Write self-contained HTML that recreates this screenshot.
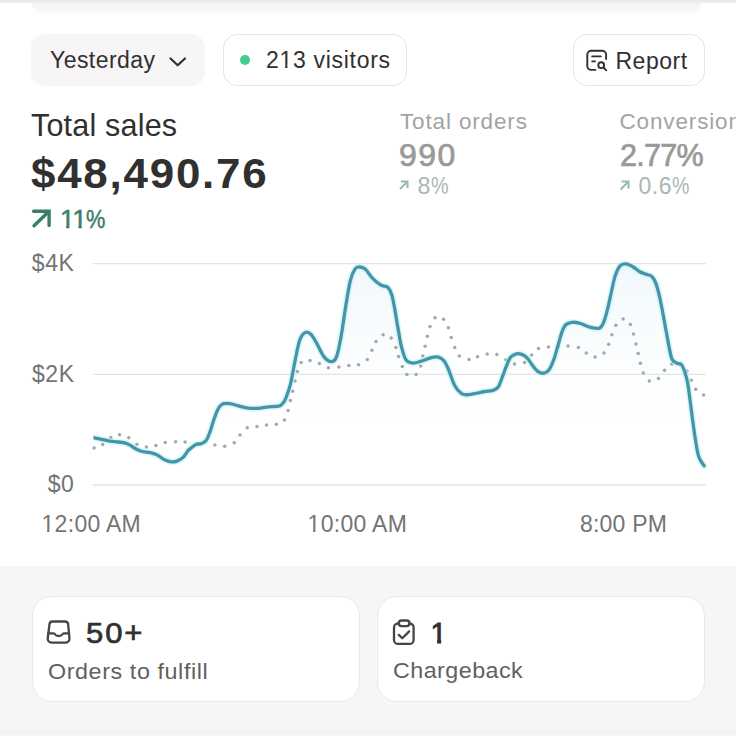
<!DOCTYPE html>
<html><head><meta charset="utf-8">
<style>
*{margin:0;padding:0;box-sizing:border-box}
html,body{width:736px;height:736px;overflow:hidden;background:#fff}
body{position:relative;font-family:"Liberation Sans",sans-serif;color:#303030}
.a{position:absolute;white-space:nowrap;line-height:1}
.one{--s:0.1px;--v:1px;display:inline-block;clip-path:polygon(-2px -2px,calc(100% + 3px) -2px,calc(100% + 3px) calc(0.758em - var(--v)),calc(0.34em + var(--s)) calc(0.758em - var(--v)),calc(0.34em + var(--s)) 110%,calc(0.25em - var(--s)) 110%,calc(0.25em - var(--s)) calc(0.758em - var(--v)),-2px calc(0.758em - var(--v)))}
.oneb{display:inline-block;clip-path:polygon(0 0,100% 0,100% 0.745em,0.3675em 0.745em,0.3675em 100%,0.2325em 100%,0.2325em 0.745em,0 0.745em)}
.topband{position:absolute;left:0;top:0;width:736px;height:3px;background:linear-gradient(#e8e8e8,#eeeeee)}
.topcard{position:absolute;left:32px;top:-40px;width:669px;height:54px;border-radius:12px;background:linear-gradient(#f2f2f2 0,#f3f3f3 43px,#fbfbfb 54px)}
.btn{position:absolute;top:34px;height:52px;border-radius:14px}
.b1{left:30.5px;width:174.5px;background:#f8f5f7}
.b2{left:223px;width:183.5px;background:#fff;border:1.5px solid #e6e4e5}
.b3{left:572.5px;width:132px;background:#fff;border:1.5px solid #e6e4e5}
.dot{position:absolute;left:239.5px;top:55px;width:10px;height:10px;border-radius:50%;background:#45cc90}
.bottom{position:absolute;left:0;top:566px;width:736px;height:170px;background:#f8f5f8}
.card{position:absolute;top:596px;height:106px;border-radius:20px;background:#fff;border:1.5px solid #ebe8ea}
.c1{left:32px;width:327.5px}
.c2{left:377px;width:327.5px}
</style></head><body>
<div class="topcard"></div>
<div class="topband"></div>

<div class="btn b1"></div>
<div class="btn b2"></div>
<div class="btn b3"></div>
<div class="dot"></div>

<span class="a" id="t_yest" style="top:48.83px;font-size:23px;color:#303030;left:50px;letter-spacing:0.45px;">Yesterday</span>
<span class="a" id="t_vis" style="top:48.93px;font-size:23px;color:#303030;left:266px;letter-spacing:0.7px;">2<span class="one">1</span>3 visitors</span>
<span class="a" id="t_rep" style="top:49.63px;font-size:23px;color:#303030;left:615.5px;letter-spacing:0.5px;">Report</span>
<span class="a" id="t_ts" style="top:109.78px;font-size:30.5px;color:#303030;left:31px;letter-spacing:0.2px;">Total sales</span>
<span class="a" id="t_amt" style="top:153.25px;font-size:42px;color:#303030;left:31px;font-weight:700;letter-spacing:1.7px;transform:scaleX(1.045);transform-origin:0 0;">$48,490.76</span>
<span class="a" id="t_11" style="top:206.27px;font-size:26.5px;color:#3a8069;left:60px;-webkit-text-stroke:0.5px #3a8069;"><span class="one" style="--s:0.4px;--v:1.3px;letter-spacing:-2.5px">1</span><span class="one" style="--s:0.4px;--v:1.3px;letter-spacing:-0.6px">1</span><span style="display:inline-block;transform:scaleX(0.82);transform-origin:0 0">%</span></span>
<span class="a" id="t_to" style="top:110.95px;font-size:22.5px;color:#a3a3a3;left:400px;letter-spacing:0.85px;">Total orders</span>
<span class="a" id="t_990" style="top:140.18px;font-size:30.5px;color:#999999;left:399px;letter-spacing:1.4px;transform:scaleX(1.05);transform-origin:0 0;-webkit-text-stroke:0.7px #999999;">990</span>
<span class="a" id="t_8" style="top:174.58px;font-size:23.3px;color:#a8b8b1;left:417.5px;letter-spacing:0.6px;">8<span style="display:inline-block;transform:scaleX(0.85);transform-origin:0 0">%</span></span>
<span class="a" id="t_conv" style="top:110.95px;font-size:22.5px;color:#a3a3a3;left:619.5px;letter-spacing:0.85px;">Conversion</span>
<span class="a" id="t_277" style="top:140.18px;font-size:30.5px;color:#999999;left:620px;letter-spacing:-0.7px;-webkit-text-stroke:0.7px #999999;">2.77%</span>
<span class="a" id="t_06" style="top:174.53px;font-size:23px;color:#a8b8b1;left:638.5px;letter-spacing:0.5px;">0.6<span style="display:inline-block;transform:scaleX(0.85);transform-origin:0 0">%</span></span>
<span class="a" id="t_4k" style="top:252.33px;font-size:23px;color:#747474;right:661.5px;letter-spacing:0.6px;">$4K</span>
<span class="a" id="t_2k" style="top:363.13px;font-size:23px;color:#747474;right:661.5px;letter-spacing:0.5px;">$2K</span>
<span class="a" id="t_0" style="top:473.13px;font-size:23px;color:#747474;right:661.5px;letter-spacing:0.6px;">$0</span>
<span class="a" id="t_12" style="top:513.03px;font-size:23px;color:#747474;left:41.5px;letter-spacing:0.3px;"><span class="one">1</span>2:00 AM</span>
<span class="a" id="t_10" style="top:513.03px;font-size:23px;color:#747474;left:307.5px;letter-spacing:0.32px;"><span class="one">1</span>0:00 AM</span>
<span class="a" id="t_8pm" style="top:513.03px;font-size:23px;color:#747474;left:580px;letter-spacing:0.2px;">8:00 PM</span>
<svg style="position:absolute;left:0;top:0" width="736" height="565" viewBox="0 0 736 565">
<defs>
<linearGradient id="ag" x1="0" y1="263" x2="0" y2="485" gradientUnits="userSpaceOnUse">
<stop offset="0" stop-color="#e4f2f8" stop-opacity="0.55"/>
<stop offset="0.5" stop-color="#eef6fa" stop-opacity="0.15"/>
<stop offset="0.75" stop-color="#ffffff" stop-opacity="0"/>
</linearGradient>
<clipPath id="lc"><rect x="93.4" y="0" width="700" height="565"/></clipPath>
</defs>
<g stroke="#e2e2e2" stroke-width="1.3">
<line x1="93" y1="263.6" x2="705.5" y2="263.6"/>
<line x1="93" y1="374.4" x2="705.5" y2="374.4"/>
<line x1="93" y1="485" x2="705.5" y2="485"/>
</g>
<path d="M93.7,437.7 C95.0,438.0 98.9,438.7 101.6,439.3 C104.3,439.9 107.0,440.7 109.7,441.1 C112.4,441.6 115.4,441.7 117.9,442.0 C120.4,442.3 122.7,442.3 124.7,442.8 C126.7,443.3 128.3,444.1 130.1,445.1 C131.9,446.1 133.6,447.7 135.6,448.8 C137.6,449.9 139.8,450.9 142.3,451.5 C144.8,452.1 148.0,452.0 150.5,452.6 C153.0,453.2 155.0,454.0 157.3,455.1 C159.6,456.2 161.8,458.3 164.1,459.4 C166.4,460.5 168.9,461.5 170.9,461.8 C172.9,462.1 174.3,462.1 176.3,461.4 C178.3,460.7 181.2,459.2 183.1,457.4 C185.0,455.6 186.8,452.1 188.0,450.6 C189.2,449.1 189.1,449.6 190.4,448.6 C191.7,447.6 194.1,445.3 195.9,444.5 C197.7,443.7 199.6,444.3 201.3,443.6 C203.0,442.9 204.6,442.5 206.1,440.5 C207.6,438.5 208.9,434.9 210.1,431.6 C211.3,428.3 212.2,424.4 213.5,420.8 C214.8,417.2 216.2,412.6 217.6,409.9 C219.0,407.2 220.1,405.6 221.7,404.5 C223.3,403.4 225.1,403.4 227.1,403.4 C229.1,403.4 231.4,403.9 233.9,404.5 C236.4,405.1 239.4,406.3 242.1,406.9 C244.8,407.5 247.5,408.1 250.2,408.3 C252.9,408.5 255.7,408.5 258.4,408.3 C261.1,408.1 263.8,407.5 266.5,407.2 C269.2,406.9 272.4,406.7 274.7,406.5 C277.0,406.3 278.6,406.5 280.1,405.8 C281.6,405.1 282.6,403.7 283.5,402.4 C284.4,401.1 284.7,401.2 285.8,398.2 C286.9,395.2 288.9,390.5 290.4,384.3 C291.9,378.1 293.5,368.5 295.0,361.2 C296.5,353.9 297.9,345.3 299.6,340.5 C301.3,335.7 303.5,333.4 305.4,332.4 C307.3,331.4 309.3,332.8 311.2,334.7 C313.1,336.6 314.9,340.2 317.0,343.9 C319.1,347.5 321.5,353.6 323.9,356.6 C326.3,359.6 329.2,361.7 331.3,361.7 C333.4,361.7 335.0,360.9 336.6,356.6 C338.2,352.3 339.7,344.3 341.2,335.8 C342.7,327.3 344.3,315.0 345.8,305.8 C347.3,296.6 348.8,286.5 350.4,280.4 C351.9,274.2 353.6,271.1 355.1,268.9 C356.7,266.7 358.0,266.9 359.7,267.0 C361.4,267.1 363.4,267.4 365.5,269.3 C367.6,271.2 369.8,275.5 372.4,278.1 C374.9,280.7 378.2,283.5 380.8,285.0 C383.4,286.5 385.9,285.8 387.7,287.3 C389.5,288.9 390.5,290.8 391.6,294.3 C392.8,297.8 393.5,302.3 394.6,308.1 C395.7,313.9 396.9,322.3 398.1,328.9 C399.3,335.4 400.2,342.2 401.6,347.4 C403.0,352.6 404.3,357.5 406.2,360.1 C408.1,362.7 410.6,362.9 413.1,363.1 C415.6,363.3 418.3,362.1 421.2,361.2 C424.1,360.3 427.5,358.5 430.4,357.8 C433.3,357.1 436.2,356.5 438.5,357.1 C440.8,357.7 442.6,359.0 444.3,361.2 C446.0,363.4 447.2,366.4 448.9,370.5 C450.6,374.6 452.6,381.6 454.7,385.5 C456.8,389.4 459.3,392.1 461.6,393.6 C463.9,395.1 465.9,394.8 468.5,394.7 C471.1,394.6 474.8,393.5 477.5,393.0 C480.2,392.5 482.3,391.9 484.9,391.5 C487.5,391.1 490.9,391.2 493.2,390.4 C495.4,389.6 496.9,388.8 498.4,386.7 C499.9,384.6 500.9,380.9 502.1,377.7 C503.4,374.5 504.5,370.7 505.9,367.3 C507.3,363.9 508.7,359.8 510.4,357.5 C512.1,355.2 514.3,354.3 516.3,353.8 C518.3,353.3 520.4,353.9 522.3,354.6 C524.2,355.4 525.8,356.4 527.5,358.3 C529.2,360.2 531.0,363.6 532.8,365.8 C534.5,368.0 536.1,370.3 538.0,371.5 C539.9,372.7 542.1,373.5 544.0,373.2 C545.9,372.9 547.6,371.7 549.2,369.5 C550.8,367.3 552.2,363.9 553.7,359.8 C555.2,355.7 556.8,349.4 558.2,344.8 C559.6,340.2 560.6,335.5 561.9,332.1 C563.1,328.8 564.0,326.3 565.7,324.7 C567.4,323.1 569.4,322.5 571.9,322.3 C574.4,322.1 577.6,322.6 580.7,323.5 C583.8,324.4 587.5,326.6 590.6,327.4 C593.7,328.2 597.3,328.9 599.4,328.2 C601.5,327.4 602.1,325.9 603.4,322.9 C604.7,319.9 606.0,315.2 607.3,310.1 C608.6,305.0 610.0,298.1 611.3,292.4 C612.6,286.7 613.7,280.1 615.2,275.7 C616.7,271.3 618.3,267.8 620.1,265.8 C621.9,263.8 623.9,263.7 626.0,263.9 C628.1,264.1 630.6,265.5 632.9,266.8 C635.2,268.1 637.7,270.5 639.8,271.7 C641.9,272.9 643.7,273.3 645.7,274.1 C647.7,274.9 650.0,274.9 651.6,276.3 C653.2,277.7 654.3,279.3 655.6,282.6 C656.9,285.9 658.2,290.7 659.5,296.3 C660.8,301.9 662.0,308.4 663.4,316.0 C664.8,323.6 666.7,334.5 668.1,341.6 C669.5,348.7 670.4,355.1 671.8,358.7 C673.2,362.3 675.2,362.2 676.7,363.1 C678.2,364.0 679.9,363.0 681.1,364.1 C682.3,365.2 682.9,366.5 684.0,369.7 C685.1,372.9 686.5,376.4 687.7,383.1 C688.9,389.8 690.1,401.0 691.3,410.0 C692.5,419.0 693.8,429.1 695.0,436.9 C696.2,444.6 697.2,451.7 698.7,456.5 C700.2,461.3 703.2,464.2 704.1,465.8 L704.1,485 L93.7,485 Z" fill="url(#ag)"/>
<g fill="#a2a9ac"><circle cx="94.1" cy="447.9" r="1.75"/><circle cx="102.7" cy="444.5" r="1.75"/><circle cx="110.8" cy="437.4" r="1.75"/><circle cx="119.5" cy="434.7" r="1.75"/><circle cx="128.8" cy="437.7" r="1.75"/><circle cx="136.9" cy="444.2" r="1.75"/><circle cx="146.4" cy="446.9" r="1.75"/><circle cx="155.9" cy="445.5" r="1.75"/><circle cx="165.2" cy="442.4" r="1.75"/><circle cx="175.6" cy="441.7" r="1.75"/><circle cx="185.1" cy="442.0" r="1.75"/><circle cx="214.9" cy="445.0" r="1.75"/><circle cx="224.7" cy="446.3" r="1.75"/><circle cx="234.2" cy="442.8" r="1.75"/><circle cx="240.0" cy="435.0" r="1.75"/><circle cx="247.2" cy="427.8" r="1.75"/><circle cx="257.0" cy="426.5" r="1.75"/><circle cx="266.5" cy="425.1" r="1.75"/><circle cx="276.3" cy="424.2" r="1.75"/><circle cx="284.4" cy="419.9" r="1.75"/><circle cx="288.1" cy="410.4" r="1.75"/><circle cx="290.4" cy="400.5" r="1.75"/><circle cx="292.7" cy="391.3" r="1.75"/><circle cx="295.0" cy="380.9" r="1.75"/><circle cx="297.3" cy="371.6" r="1.75"/><circle cx="301.2" cy="362.4" r="1.75"/><circle cx="310.0" cy="360.5" r="1.75"/><circle cx="319.3" cy="363.5" r="1.75"/><circle cx="328.5" cy="367.7" r="1.75"/><circle cx="338.9" cy="367.0" r="1.75"/><circle cx="348.8" cy="365.4" r="1.75"/><circle cx="358.5" cy="364.7" r="1.75"/><circle cx="367.3" cy="359.4" r="1.75"/><circle cx="371.9" cy="350.2" r="1.75"/><circle cx="376.0" cy="341.4" r="1.75"/><circle cx="383.1" cy="334.7" r="1.75"/><circle cx="391.2" cy="338.1" r="1.75"/><circle cx="395.8" cy="347.4" r="1.75"/><circle cx="398.6" cy="356.6" r="1.75"/><circle cx="402.3" cy="366.5" r="1.75"/><circle cx="406.9" cy="374.6" r="1.75"/><circle cx="416.1" cy="374.4" r="1.75"/><circle cx="420.7" cy="365.9" r="1.75"/><circle cx="422.8" cy="355.9" r="1.75"/><circle cx="425.1" cy="346.2" r="1.75"/><circle cx="427.4" cy="336.3" r="1.75"/><circle cx="430.0" cy="326.6" r="1.75"/><circle cx="435.0" cy="317.8" r="1.75"/><circle cx="443.6" cy="319.2" r="1.75"/><circle cx="448.4" cy="327.7" r="1.75"/><circle cx="451.2" cy="337.5" r="1.75"/><circle cx="454.7" cy="347.4" r="1.75"/><circle cx="459.3" cy="355.9" r="1.75"/><circle cx="469.0" cy="359.6" r="1.75"/><circle cx="477.5" cy="356.8" r="1.75"/><circle cx="487.2" cy="354.1" r="1.75"/><circle cx="496.9" cy="354.6" r="1.75"/><circle cx="505.9" cy="359.8" r="1.75"/><circle cx="514.5" cy="364.0" r="1.75"/><circle cx="524.6" cy="362.5" r="1.75"/><circle cx="531.6" cy="355.0" r="1.75"/><circle cx="538.5" cy="348.6" r="1.75"/><circle cx="548.5" cy="347.1" r="1.75"/><circle cx="558.2" cy="346.7" r="1.75"/><circle cx="568.0" cy="346.1" r="1.75"/><circle cx="578.4" cy="347.5" r="1.75"/><circle cx="586.3" cy="353.0" r="1.75"/><circle cx="595.1" cy="357.0" r="1.75"/><circle cx="604.0" cy="353.0" r="1.75"/><circle cx="608.7" cy="344.2" r="1.75"/><circle cx="611.9" cy="334.7" r="1.75"/><circle cx="615.8" cy="325.3" r="1.75"/><circle cx="623.1" cy="319.0" r="1.75"/><circle cx="630.4" cy="324.5" r="1.75"/><circle cx="633.5" cy="334.1" r="1.75"/><circle cx="635.9" cy="344.0" r="1.75"/><circle cx="638.2" cy="353.4" r="1.75"/><circle cx="640.4" cy="363.3" r="1.75"/><circle cx="643.3" cy="373.1" r="1.75"/><circle cx="649.3" cy="381.0" r="1.75"/><circle cx="658.5" cy="378.4" r="1.75"/><circle cx="664.6" cy="370.3" r="1.75"/><circle cx="671.8" cy="364.1" r="1.75"/><circle cx="679.5" cy="364.5" r="1.75"/><circle cx="687.0" cy="370.9" r="1.75"/><circle cx="691.3" cy="380.2" r="1.75"/><circle cx="695.7" cy="389.2" r="1.75"/><circle cx="703.6" cy="394.9" r="1.75"/></g>
<g clip-path="url(#lc)"><path d="M93.7,437.7 C95.0,438.0 98.9,438.7 101.6,439.3 C104.3,439.9 107.0,440.7 109.7,441.1 C112.4,441.6 115.4,441.7 117.9,442.0 C120.4,442.3 122.7,442.3 124.7,442.8 C126.7,443.3 128.3,444.1 130.1,445.1 C131.9,446.1 133.6,447.7 135.6,448.8 C137.6,449.9 139.8,450.9 142.3,451.5 C144.8,452.1 148.0,452.0 150.5,452.6 C153.0,453.2 155.0,454.0 157.3,455.1 C159.6,456.2 161.8,458.3 164.1,459.4 C166.4,460.5 168.9,461.5 170.9,461.8 C172.9,462.1 174.3,462.1 176.3,461.4 C178.3,460.7 181.2,459.2 183.1,457.4 C185.0,455.6 186.8,452.1 188.0,450.6 C189.2,449.1 189.1,449.6 190.4,448.6 C191.7,447.6 194.1,445.3 195.9,444.5 C197.7,443.7 199.6,444.3 201.3,443.6 C203.0,442.9 204.6,442.5 206.1,440.5 C207.6,438.5 208.9,434.9 210.1,431.6 C211.3,428.3 212.2,424.4 213.5,420.8 C214.8,417.2 216.2,412.6 217.6,409.9 C219.0,407.2 220.1,405.6 221.7,404.5 C223.3,403.4 225.1,403.4 227.1,403.4 C229.1,403.4 231.4,403.9 233.9,404.5 C236.4,405.1 239.4,406.3 242.1,406.9 C244.8,407.5 247.5,408.1 250.2,408.3 C252.9,408.5 255.7,408.5 258.4,408.3 C261.1,408.1 263.8,407.5 266.5,407.2 C269.2,406.9 272.4,406.7 274.7,406.5 C277.0,406.3 278.6,406.5 280.1,405.8 C281.6,405.1 282.6,403.7 283.5,402.4 C284.4,401.1 284.7,401.2 285.8,398.2 C286.9,395.2 288.9,390.5 290.4,384.3 C291.9,378.1 293.5,368.5 295.0,361.2 C296.5,353.9 297.9,345.3 299.6,340.5 C301.3,335.7 303.5,333.4 305.4,332.4 C307.3,331.4 309.3,332.8 311.2,334.7 C313.1,336.6 314.9,340.2 317.0,343.9 C319.1,347.5 321.5,353.6 323.9,356.6 C326.3,359.6 329.2,361.7 331.3,361.7 C333.4,361.7 335.0,360.9 336.6,356.6 C338.2,352.3 339.7,344.3 341.2,335.8 C342.7,327.3 344.3,315.0 345.8,305.8 C347.3,296.6 348.8,286.5 350.4,280.4 C351.9,274.2 353.6,271.1 355.1,268.9 C356.7,266.7 358.0,266.9 359.7,267.0 C361.4,267.1 363.4,267.4 365.5,269.3 C367.6,271.2 369.8,275.5 372.4,278.1 C374.9,280.7 378.2,283.5 380.8,285.0 C383.4,286.5 385.9,285.8 387.7,287.3 C389.5,288.9 390.5,290.8 391.6,294.3 C392.8,297.8 393.5,302.3 394.6,308.1 C395.7,313.9 396.9,322.3 398.1,328.9 C399.3,335.4 400.2,342.2 401.6,347.4 C403.0,352.6 404.3,357.5 406.2,360.1 C408.1,362.7 410.6,362.9 413.1,363.1 C415.6,363.3 418.3,362.1 421.2,361.2 C424.1,360.3 427.5,358.5 430.4,357.8 C433.3,357.1 436.2,356.5 438.5,357.1 C440.8,357.7 442.6,359.0 444.3,361.2 C446.0,363.4 447.2,366.4 448.9,370.5 C450.6,374.6 452.6,381.6 454.7,385.5 C456.8,389.4 459.3,392.1 461.6,393.6 C463.9,395.1 465.9,394.8 468.5,394.7 C471.1,394.6 474.8,393.5 477.5,393.0 C480.2,392.5 482.3,391.9 484.9,391.5 C487.5,391.1 490.9,391.2 493.2,390.4 C495.4,389.6 496.9,388.8 498.4,386.7 C499.9,384.6 500.9,380.9 502.1,377.7 C503.4,374.5 504.5,370.7 505.9,367.3 C507.3,363.9 508.7,359.8 510.4,357.5 C512.1,355.2 514.3,354.3 516.3,353.8 C518.3,353.3 520.4,353.9 522.3,354.6 C524.2,355.4 525.8,356.4 527.5,358.3 C529.2,360.2 531.0,363.6 532.8,365.8 C534.5,368.0 536.1,370.3 538.0,371.5 C539.9,372.7 542.1,373.5 544.0,373.2 C545.9,372.9 547.6,371.7 549.2,369.5 C550.8,367.3 552.2,363.9 553.7,359.8 C555.2,355.7 556.8,349.4 558.2,344.8 C559.6,340.2 560.6,335.5 561.9,332.1 C563.1,328.8 564.0,326.3 565.7,324.7 C567.4,323.1 569.4,322.5 571.9,322.3 C574.4,322.1 577.6,322.6 580.7,323.5 C583.8,324.4 587.5,326.6 590.6,327.4 C593.7,328.2 597.3,328.9 599.4,328.2 C601.5,327.4 602.1,325.9 603.4,322.9 C604.7,319.9 606.0,315.2 607.3,310.1 C608.6,305.0 610.0,298.1 611.3,292.4 C612.6,286.7 613.7,280.1 615.2,275.7 C616.7,271.3 618.3,267.8 620.1,265.8 C621.9,263.8 623.9,263.7 626.0,263.9 C628.1,264.1 630.6,265.5 632.9,266.8 C635.2,268.1 637.7,270.5 639.8,271.7 C641.9,272.9 643.7,273.3 645.7,274.1 C647.7,274.9 650.0,274.9 651.6,276.3 C653.2,277.7 654.3,279.3 655.6,282.6 C656.9,285.9 658.2,290.7 659.5,296.3 C660.8,301.9 662.0,308.4 663.4,316.0 C664.8,323.6 666.7,334.5 668.1,341.6 C669.5,348.7 670.4,355.1 671.8,358.7 C673.2,362.3 675.2,362.2 676.7,363.1 C678.2,364.0 679.9,363.0 681.1,364.1 C682.3,365.2 682.9,366.5 684.0,369.7 C685.1,372.9 686.5,376.4 687.7,383.1 C688.9,389.8 690.1,401.0 691.3,410.0 C692.5,419.0 693.8,429.1 695.0,436.9 C696.2,444.6 697.2,451.7 698.7,456.5 C700.2,461.3 703.2,464.2 704.1,465.8" fill="none" stroke="#b0f0f6" stroke-opacity="0.45" stroke-width="6.5" stroke-linecap="round" stroke-linejoin="round"/>
<path d="M93.7,437.7 C95.0,438.0 98.9,438.7 101.6,439.3 C104.3,439.9 107.0,440.7 109.7,441.1 C112.4,441.6 115.4,441.7 117.9,442.0 C120.4,442.3 122.7,442.3 124.7,442.8 C126.7,443.3 128.3,444.1 130.1,445.1 C131.9,446.1 133.6,447.7 135.6,448.8 C137.6,449.9 139.8,450.9 142.3,451.5 C144.8,452.1 148.0,452.0 150.5,452.6 C153.0,453.2 155.0,454.0 157.3,455.1 C159.6,456.2 161.8,458.3 164.1,459.4 C166.4,460.5 168.9,461.5 170.9,461.8 C172.9,462.1 174.3,462.1 176.3,461.4 C178.3,460.7 181.2,459.2 183.1,457.4 C185.0,455.6 186.8,452.1 188.0,450.6 C189.2,449.1 189.1,449.6 190.4,448.6 C191.7,447.6 194.1,445.3 195.9,444.5 C197.7,443.7 199.6,444.3 201.3,443.6 C203.0,442.9 204.6,442.5 206.1,440.5 C207.6,438.5 208.9,434.9 210.1,431.6 C211.3,428.3 212.2,424.4 213.5,420.8 C214.8,417.2 216.2,412.6 217.6,409.9 C219.0,407.2 220.1,405.6 221.7,404.5 C223.3,403.4 225.1,403.4 227.1,403.4 C229.1,403.4 231.4,403.9 233.9,404.5 C236.4,405.1 239.4,406.3 242.1,406.9 C244.8,407.5 247.5,408.1 250.2,408.3 C252.9,408.5 255.7,408.5 258.4,408.3 C261.1,408.1 263.8,407.5 266.5,407.2 C269.2,406.9 272.4,406.7 274.7,406.5 C277.0,406.3 278.6,406.5 280.1,405.8 C281.6,405.1 282.6,403.7 283.5,402.4 C284.4,401.1 284.7,401.2 285.8,398.2 C286.9,395.2 288.9,390.5 290.4,384.3 C291.9,378.1 293.5,368.5 295.0,361.2 C296.5,353.9 297.9,345.3 299.6,340.5 C301.3,335.7 303.5,333.4 305.4,332.4 C307.3,331.4 309.3,332.8 311.2,334.7 C313.1,336.6 314.9,340.2 317.0,343.9 C319.1,347.5 321.5,353.6 323.9,356.6 C326.3,359.6 329.2,361.7 331.3,361.7 C333.4,361.7 335.0,360.9 336.6,356.6 C338.2,352.3 339.7,344.3 341.2,335.8 C342.7,327.3 344.3,315.0 345.8,305.8 C347.3,296.6 348.8,286.5 350.4,280.4 C351.9,274.2 353.6,271.1 355.1,268.9 C356.7,266.7 358.0,266.9 359.7,267.0 C361.4,267.1 363.4,267.4 365.5,269.3 C367.6,271.2 369.8,275.5 372.4,278.1 C374.9,280.7 378.2,283.5 380.8,285.0 C383.4,286.5 385.9,285.8 387.7,287.3 C389.5,288.9 390.5,290.8 391.6,294.3 C392.8,297.8 393.5,302.3 394.6,308.1 C395.7,313.9 396.9,322.3 398.1,328.9 C399.3,335.4 400.2,342.2 401.6,347.4 C403.0,352.6 404.3,357.5 406.2,360.1 C408.1,362.7 410.6,362.9 413.1,363.1 C415.6,363.3 418.3,362.1 421.2,361.2 C424.1,360.3 427.5,358.5 430.4,357.8 C433.3,357.1 436.2,356.5 438.5,357.1 C440.8,357.7 442.6,359.0 444.3,361.2 C446.0,363.4 447.2,366.4 448.9,370.5 C450.6,374.6 452.6,381.6 454.7,385.5 C456.8,389.4 459.3,392.1 461.6,393.6 C463.9,395.1 465.9,394.8 468.5,394.7 C471.1,394.6 474.8,393.5 477.5,393.0 C480.2,392.5 482.3,391.9 484.9,391.5 C487.5,391.1 490.9,391.2 493.2,390.4 C495.4,389.6 496.9,388.8 498.4,386.7 C499.9,384.6 500.9,380.9 502.1,377.7 C503.4,374.5 504.5,370.7 505.9,367.3 C507.3,363.9 508.7,359.8 510.4,357.5 C512.1,355.2 514.3,354.3 516.3,353.8 C518.3,353.3 520.4,353.9 522.3,354.6 C524.2,355.4 525.8,356.4 527.5,358.3 C529.2,360.2 531.0,363.6 532.8,365.8 C534.5,368.0 536.1,370.3 538.0,371.5 C539.9,372.7 542.1,373.5 544.0,373.2 C545.9,372.9 547.6,371.7 549.2,369.5 C550.8,367.3 552.2,363.9 553.7,359.8 C555.2,355.7 556.8,349.4 558.2,344.8 C559.6,340.2 560.6,335.5 561.9,332.1 C563.1,328.8 564.0,326.3 565.7,324.7 C567.4,323.1 569.4,322.5 571.9,322.3 C574.4,322.1 577.6,322.6 580.7,323.5 C583.8,324.4 587.5,326.6 590.6,327.4 C593.7,328.2 597.3,328.9 599.4,328.2 C601.5,327.4 602.1,325.9 603.4,322.9 C604.7,319.9 606.0,315.2 607.3,310.1 C608.6,305.0 610.0,298.1 611.3,292.4 C612.6,286.7 613.7,280.1 615.2,275.7 C616.7,271.3 618.3,267.8 620.1,265.8 C621.9,263.8 623.9,263.7 626.0,263.9 C628.1,264.1 630.6,265.5 632.9,266.8 C635.2,268.1 637.7,270.5 639.8,271.7 C641.9,272.9 643.7,273.3 645.7,274.1 C647.7,274.9 650.0,274.9 651.6,276.3 C653.2,277.7 654.3,279.3 655.6,282.6 C656.9,285.9 658.2,290.7 659.5,296.3 C660.8,301.9 662.0,308.4 663.4,316.0 C664.8,323.6 666.7,334.5 668.1,341.6 C669.5,348.7 670.4,355.1 671.8,358.7 C673.2,362.3 675.2,362.2 676.7,363.1 C678.2,364.0 679.9,363.0 681.1,364.1 C682.3,365.2 682.9,366.5 684.0,369.7 C685.1,372.9 686.5,376.4 687.7,383.1 C688.9,389.8 690.1,401.0 691.3,410.0 C692.5,419.0 693.8,429.1 695.0,436.9 C696.2,444.6 697.2,451.7 698.7,456.5 C700.2,461.3 703.2,464.2 704.1,465.8" fill="none" stroke="#4694a8" stroke-width="3.3" stroke-linecap="round" stroke-linejoin="round"/></g>

<!-- chevron -->
<polyline points="170.5,58.5 177.7,65.3 185,58.5" fill="none" stroke="#303030" stroke-width="2.2" stroke-linecap="round" stroke-linejoin="round"/>
<!-- report icon -->
<g fill="none" stroke="#303030" stroke-width="1.9" stroke-linecap="round" stroke-linejoin="round">
<path d="M595.3,69.9 H591.3 A4,4 0 0 1 587.3,65.9 V54.7 A4,4 0 0 1 591.3,50.7 H602.1 A4,4 0 0 1 606.1,54.7 V59"/>
<line x1="592.2" y1="56.4" x2="600.8" y2="56.4"/>
<line x1="592.2" y1="61.4" x2="595" y2="61.4"/>
<circle cx="601.2" cy="65.2" r="2.9"/>
<line x1="603.5" y1="67.5" x2="606.3" y2="70.3"/>
</g>
<!-- up arrows -->
<g fill="none" stroke="#3a7d68" stroke-width="3.4" stroke-linecap="round" stroke-linejoin="miter">
<polyline points="33.6,211.2 49.1,211.2 49.1,225.4"/>
<line x1="48" y1="212.3" x2="34" y2="225.8"/>
</g>
<g fill="none" stroke="#96baab" stroke-width="2">
<polyline points="401,181.5 407.5,181.5 407.5,188"/>
<line x1="407.5" y1="181.5" x2="400" y2="189"/>
<polyline points="621.5,181.5 628.5,181.5 628.5,188.5"/>
<line x1="628.5" y1="181.5" x2="620.5" y2="189.5"/>
</g>
</svg>

<div style="position:absolute;left:8px;top:561px;width:728px;height:1px;background:#fbfbfb"></div>
<div class="bottom"></div>
<div style="position:absolute;left:0;top:731px;width:736px;height:5px;background:linear-gradient(#f4f1f3,#f7f4f6)"></div>
<div class="card c1"></div>
<div class="card c2"></div>
<svg style="position:absolute;left:0;top:0" width="736" height="736" viewBox="0 0 736 736">
<g fill="none" stroke="#454545" stroke-width="2.3" stroke-linecap="round" stroke-linejoin="round">
<!-- inbox -->
<path d="M52.5,621.5 H65.2 A3,3 0 0 1 68.1,624 L69.5,638.5 A4.2,4.2 0 0 1 65.3,642.6 H51.9 A4.2,4.2 0 0 1 47.7,638.5 L49.5,624 A3,3 0 0 1 52.5,621.5 Z"/>
<path d="M48.2,633.3 H53.4 Q54.6,633.3 55.3,634.5 Q56.2,635.9 57.8,635.9 H59.6 Q61.2,635.9 62.1,634.5 Q62.8,633.3 64,633.3 H69.1"/>
<!-- clipboard -->
<path d="M398.8,623.5 H398 A4,4 0 0 0 394,627.5 V639.9 A4,4 0 0 0 398,643.9 H409.6 A4,4 0 0 0 413.6,639.9 V627.5 A4,4 0 0 0 409.6,623.5 H409.5"/>
<rect x="398.8" y="620.5" width="10.7" height="5.6" rx="2.8"/>
<polyline points="398.8,634.9 402.3,638.3 409.2,631.4"/>
</g>
</svg>
<span class="a" id="t_50" style="top:619.05px;font-size:29px;color:#303030;left:86px;letter-spacing:1.8px;transform:scaleX(1.07);transform-origin:0 0;-webkit-text-stroke:0.7px #303030;">50+</span>
<span class="a" id="t_ord" style="top:660.58px;font-size:22px;color:#616161;left:48px;letter-spacing:0.55px;transform:scaleX(1.06);transform-origin:0 0;">Orders to fulfill</span>
<span class="a" id="t_1" style="top:619.05px;font-size:29px;color:#303030;left:430.6px;-webkit-text-stroke:0.9px #303030;"><span class="one" style="--s:0.7px;--v:1.6px">1</span></span>
<span class="a" id="t_cb" style="top:660.48px;font-size:22px;color:#616161;left:393px;letter-spacing:0.42px;transform:scaleX(1.06);transform-origin:0 0;">Chargeback</span>
</body></html>
